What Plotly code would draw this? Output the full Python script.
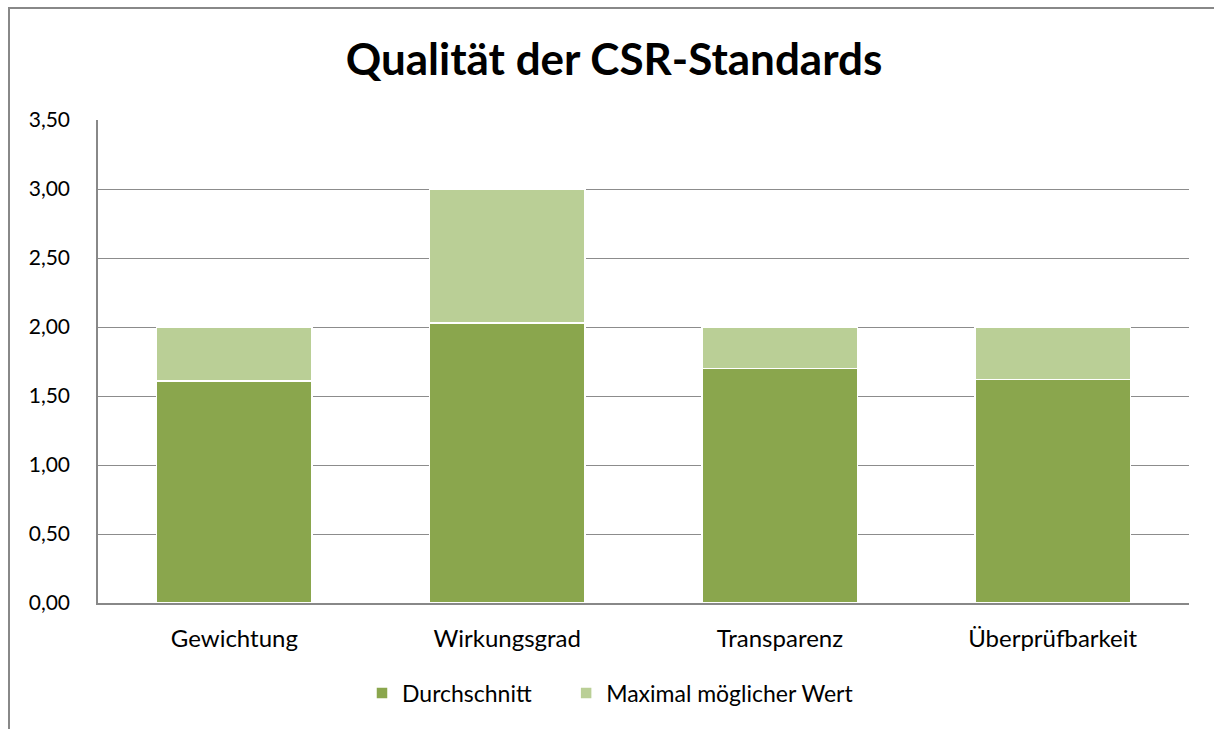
import plotly.graph_objects as go

categories = ["Gewichtung", "Wirkungsgrad", "Transparenz", "Überprüfbarkeit"]
durchschnitt = [1.61, 2.03, 1.70, 1.62]
maximal = [2.00, 3.00, 2.00, 2.00]
rest = [m - d for m, d in zip(maximal, durchschnitt)]

font_family = "Lato, 'Open Sans', sans-serif"

fig = go.Figure()
fig.add_trace(go.Bar(
    x=categories, y=durchschnitt, name="Durchschnitt" + "\u00a0" * 5,
    hovertemplate="Durchschnitt: %{y:.2f}<extra></extra>",
    marker=dict(color="#8AA64D", line=dict(color="white", width=1.5)),
))
fig.add_trace(go.Bar(
    x=categories, y=rest, name="Maximal möglicher Wert",
    hovertemplate="Maximal möglicher Wert: %{y:.2f}<extra></extra>",
    marker=dict(color="#BACF96", line=dict(color="white", width=1.5)),
))

L, R, T, B = 98, 25, 120, 126
W, H = 1214, 729
pw, ph = W - L - R, H - T - B

fig.update_layout(
    barmode="stack",
    bargap=0.43,
    width=W, height=H,
    margin=dict(l=L, r=R, t=T, b=B),
    paper_bgcolor="white", plot_bgcolor="white",
    separators=", ",
    font=dict(family=font_family, size=22, color="#000000"),
    title=dict(text="<b>Qualität der CSR-Standards</b>", x=614 / W, xanchor="center",
               y=1 - 60 / H, yanchor="middle",
               font=dict(family=font_family, size=44, color="#000000")),
    showlegend=True,
    legend=dict(orientation="h", x=(362 - L) / pw, xanchor="left", y=(603 - 693) / ph, yanchor="middle",
                font=dict(size=23), traceorder="normal"),
    xaxis=dict(showline=True, linecolor="#888888", linewidth=1.5, ticks="",
               tickfont=dict(size=24), showgrid=False, ticklabelstandoff=13),
    yaxis=dict(range=[0, 3.5], dtick=0.5, tickformat=".2f", showline=True,
               linecolor="#888888", linewidth=1.5, gridcolor="#8c8c8c", gridwidth=1,
               tickfont=dict(size=21), zeroline=False, ticks="", ticklabelstandoff=22),
    shapes=[dict(type="rect", xref="paper", yref="paper",
                 x0=(9 - L) / pw, x1=(1260 - L) / pw,
                 y0=-(800 - 603) / ph, y1=1 + (T - 8) / ph,
                 line=dict(color="#888888", width=2), fillcolor="rgba(0,0,0,0)", layer="below")],
)

fig.write_html("out.html", config={"displayModeBar": False},
               post_script="document.body.style.margin='0';document.body.style.overflow='hidden';")
